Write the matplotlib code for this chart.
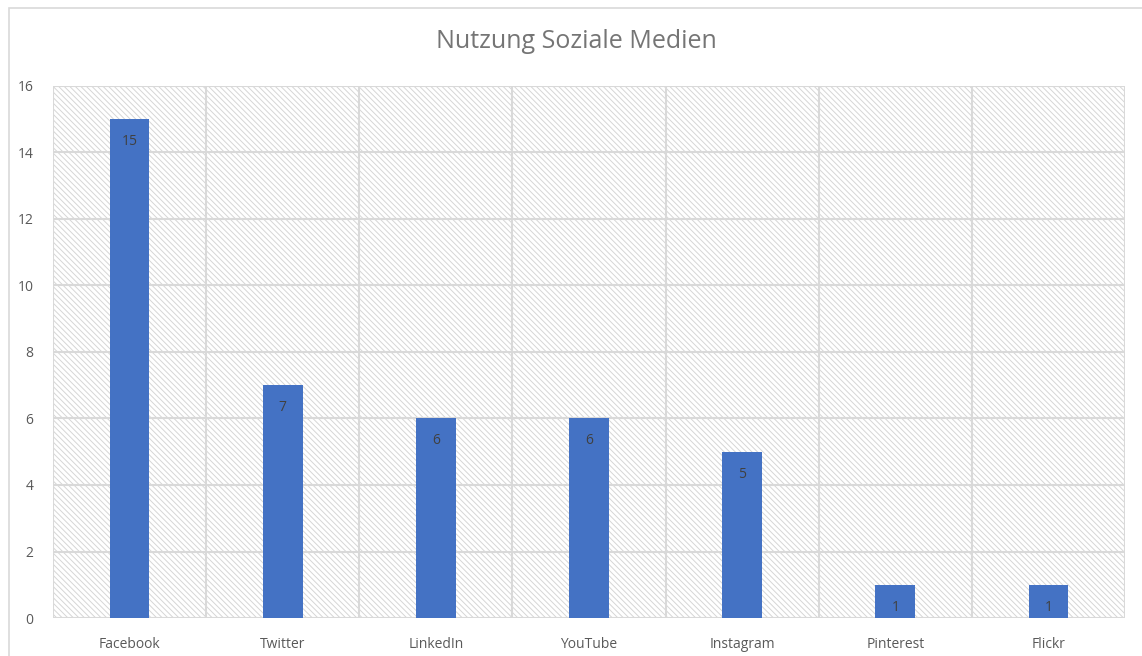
import matplotlib.pyplot as plt
from matplotlib.patches import Rectangle
import numpy as np

# Daten
plattformen = ['Facebook', 'Twitter', 'LinkedIn', 'YouTube', 'Instagram', 'Pinterest', 'Flickr']
anzahl = [15, 7, 6, 6, 5, 1, 1]
y_ticks = [0, 2, 4, 6, 8, 10, 12, 14, 16]

plt.rcParams['font.family'] = ['Open Sans', 'DejaVu Sans']
plt.rcParams['hatch.color'] = '#d6d6d6'
plt.rcParams['hatch.linewidth'] = 0.7

fig = plt.figure(figsize=(11.42, 6.56), dpi=100)
ax = fig.add_axes([53 / 1142, 38 / 656, (1125 - 53) / 1142, (618 - 86) / 656])

# Rahmen um das Diagramm
fig.patches.append(Rectangle((9 / 1142, -0.1), 1.2, (656 - 8) / 656 + 0.1,
                             transform=fig.transFigure, fill=False,
                             edgecolor='#d9d9d9', lw=1.2))

# schraffierter Hintergrund
ax.add_patch(Rectangle((0, 0), 1, 1, transform=ax.transAxes, fill=False,
                       hatch='\\' * 6, edgecolor='#d6d6d6', lw=0, zorder=0))

x = np.arange(len(plattformen))
bars = ax.bar(x, anzahl, width=0.26, color='#4472c4', zorder=3)
for b, v in zip(bars, anzahl):
    ax.text(b.get_x() + b.get_width() / 2, v - 0.67, str(v), ha='center', va='center',
            fontsize=10, color='#404040', zorder=4)

ax.set_xlim(-0.5, len(plattformen) - 0.5)
ax.set_ylim(0, 16)
ax.set_yticks(y_ticks)
ax.set_xticks(x)
ax.set_xticklabels(plattformen)
for xv in np.arange(-0.5, len(plattformen), 1.0):
    ax.axvline(xv, color='#d9d9d9', lw=1.5, zorder=1)
for yv in y_ticks:
    ax.axhline(yv, color='#d9d9d9', lw=1.5, zorder=1)

for s in ax.spines.values():
    s.set_visible(False)
ax.tick_params(length=0, labelsize=10, labelcolor='#595959')
ax.tick_params(axis='y', pad=14)
ax.tick_params(axis='x', pad=14)

fig.text(576 / 1142, 1 - 41 / 656, 'Nutzung Soziale Medien', ha='center', va='center',
         fontsize=18, color='#757575')

fig.savefig('out.png', dpi=100)
